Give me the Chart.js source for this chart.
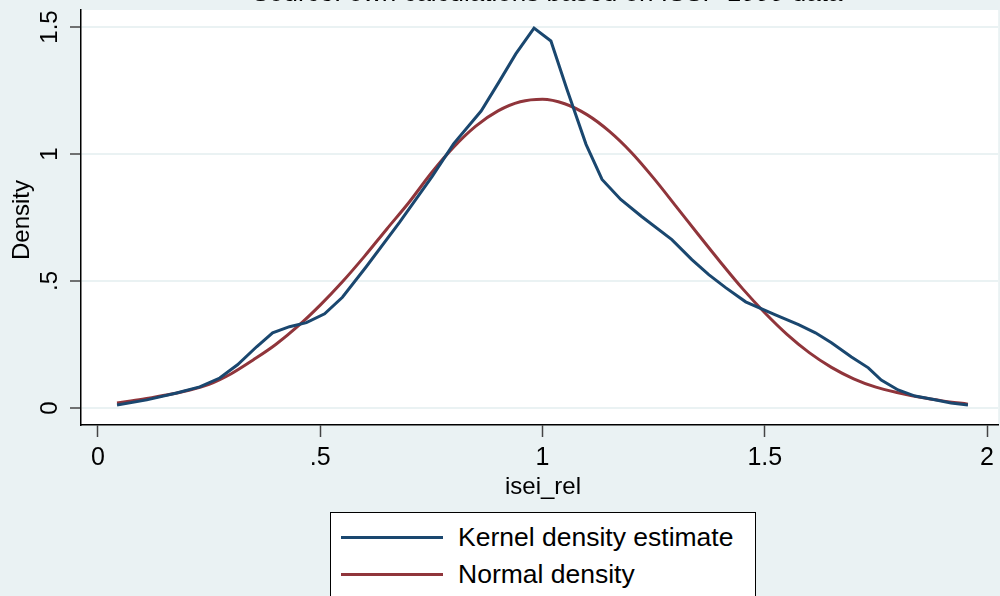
<!DOCTYPE html>
<html>
<head>
<meta charset="utf-8">
<script src="https://cdn.jsdelivr.net/npm/chart.js@4.4.1/dist/chart.umd.min.js"></script>
<style>
  html, body { margin: 0; padding: 0; background: #eaf2f3; overflow: hidden; }
  #wrap { position: relative; width: 1000px; height: 596px; font-family: 'Liberation Sans', Arial, sans-serif; }
  #title { position: absolute; left: 0; width: 1094px; top: -21px; line-height: 26px; font-size: 26px; text-align: center; color: #000; white-space: nowrap; }
  #legend { position: absolute; left: 330px; top: 512px; width: 424px; height: 100px; border: 1px solid #000; background: #fff; }
  .item { position: absolute; left: 10px; height: 36px; }
  .swatch { position: absolute; left: 0; top: 17px; width: 102px; height: 3px; }
  .label { position: absolute; left: 117px; top: 0; font-size: 26.5px; line-height: 36px; white-space: nowrap; color: #000; }
</style>
</head>
<body>
<div id="wrap">
  <canvas id="chart" width="1000" height="596"></canvas>
  <div id="title">Source: own calculations based on ISSP 1999 data</div>
  <div id="legend">
    <div class="item" style="top:6px"><div class="swatch" style="background:#1a476f"></div><div class="label">Kernel density estimate</div></div>
    <div class="item" style="top:43px"><div class="swatch" style="background:#90353b"></div><div class="label">Normal density</div></div>
  </div>
</div>
<script>
// values
const xTicks = [0, 0.5, 1, 1.5, 2];
const yTicks = [0, 0.5, 1, 1.5];

const kernelX = [0.043, 0.11, 0.177, 0.229, 0.274, 0.314, 0.357, 0.393, 0.431, 0.469, 0.51, 0.55, 0.604, 0.678, 0.752, 0.8, 0.862, 0.902, 0.94, 0.981, 1.019, 1.055, 1.098, 1.134, 1.176, 1.223, 1.291, 1.336, 1.374, 1.412, 1.457, 1.524, 1.576, 1.614, 1.65, 1.695, 1.733, 1.762, 1.8, 1.838, 1.874, 1.919, 1.957];
const kernelY = [0.012, 0.032, 0.059, 0.083, 0.118, 0.17, 0.241, 0.296, 0.32, 0.336, 0.371, 0.436, 0.557, 0.73, 0.912, 1.04, 1.169, 1.283, 1.394, 1.496, 1.445, 1.255, 1.038, 0.9, 0.821, 0.754, 0.663, 0.584, 0.525, 0.474, 0.418, 0.367, 0.328, 0.296, 0.257, 0.201, 0.158, 0.11, 0.071, 0.047, 0.035, 0.02, 0.012];

const normalX = [0.043, 0.1, 0.15, 0.2, 0.25, 0.3, 0.35, 0.4, 0.45, 0.5, 0.55, 0.6, 0.65, 0.7, 0.75, 0.8, 0.85, 0.9, 0.95, 1.0, 1.05, 1.1, 1.15, 1.2, 1.25, 1.3, 1.35, 1.4, 1.45, 1.5, 1.55, 1.6, 1.65, 1.7, 1.75, 1.8, 1.85, 1.9, 1.957];
const normalY = [0.02, 0.034, 0.05, 0.068, 0.093, 0.135, 0.19, 0.25, 0.322, 0.405, 0.497, 0.598, 0.705, 0.81, 0.925, 1.027, 1.11, 1.17, 1.206, 1.216, 1.198, 1.155, 1.09, 1.006, 0.905, 0.795, 0.684, 0.575, 0.47, 0.375, 0.29, 0.218, 0.16, 0.115, 0.082, 0.06, 0.042, 0.028, 0.015];

const FONT = "'Liberation Sans', Arial, sans-serif";

function fmt(v) {
  return v === 0 ? '0' : String(v).replace(/^0/, '');
}

const stataPlot = {
  id: 'stataPlot',
  beforeDraw(chart) {
    const { ctx, chartArea: a } = chart;
    ctx.save();
    ctx.fillStyle = '#fff';
    ctx.fillRect(a.left, a.top, a.right - a.left, a.bottom - a.top);
    ctx.restore();
  },
  afterDraw(chart) {
    const { ctx } = chart;
    const y = chart.scales.y;
    ctx.save();
    ctx.fillStyle = '#000';
    ctx.font = '24px ' + FONT;
    ctx.textAlign = 'center';
    ctx.textBaseline = 'alphabetic';
    yTicks.forEach(v => {
      ctx.save();
      ctx.translate(57, y.getPixelForValue(v));
      ctx.rotate(-Math.PI / 2);
      ctx.fillText(fmt(v), 0, 0);
      ctx.restore();
    });
    ctx.save();
    ctx.translate(29, 220);
    ctx.rotate(-Math.PI / 2);
    ctx.fillText('Density', 0, 0);
    ctx.restore();
    ctx.fillText('isei_rel', 543, 494);
    ctx.restore();
  }
};

new Chart(document.getElementById('chart'), {
  type: 'line',
  data: {
    datasets: [
      { label: 'Kernel density estimate', data: kernelX.map((x, i) => ({ x, y: kernelY[i] })), borderColor: '#1a476f', borderWidth: 3, pointRadius: 0, tension: 0, fill: false },
      { label: 'Normal density', data: normalX.map((x, i) => ({ x, y: normalY[i] })), borderColor: '#90353b', borderWidth: 3, pointRadius: 0, cubicInterpolationMode: 'monotone', fill: false }
    ]
  },
  options: {
    responsive: false,
    animation: false,
    layout: { padding: { top: 10, left: 0, right: 0, bottom: 0 } },
    plugins: { legend: { display: false }, tooltip: { enabled: false } },
    scales: {
      x: {
        type: 'linear', min: -0.038, max: 2.025,
        afterBuildTicks: s => { s.ticks = xTicks.map(v => ({ value: v })); },
        afterFit: s => { s.height = 171; },
        grid: { drawOnChartArea: false, tickLength: 12, tickColor: '#444', tickWidth: 1.5 },
        border: { color: '#000', width: 1.5 },
        ticks: { color: '#000', font: { family: FONT, size: 25 }, padding: 6, maxRotation: 0, callback: v => fmt(v) }
      },
      y: {
        type: 'linear', min: -0.067, max: 1.567,
        afterBuildTicks: s => { s.ticks = yTicks.map(v => ({ value: v })); },
        afterFit: s => { s.width = 81; },
        grid: { color: '#eaf2f3', lineWidth: 2, tickLength: 11, tickColor: '#444', tickWidth: 1.5 },
        border: { color: '#000', width: 1.5 },
        ticks: { display: false }
      }
    }
  },
  plugins: [stataPlot]
});
</script>
</body>
</html>
